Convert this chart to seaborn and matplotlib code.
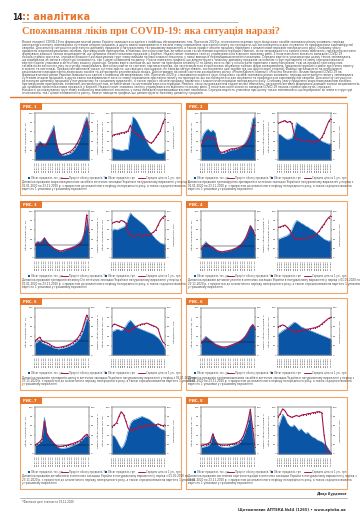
import matplotlib
matplotlib.use('Agg')
import matplotlib.pyplot as plt
import seaborn as sns
import pandas as pd
import textwrap
from matplotlib.patches import Rectangle
from matplotlib.lines import Line2D

sns.set_theme(style='white')
plt.rcParams['font.family'] = ['DejaVu Sans']

# ---------------- data ----------------
dates_left = ['06.01.20', '20.01.20', '03.02.20', '17.02.20', '02.03.20', '16.03.20',
              '30.03.20', '13.04.20', '27.04.20', '11.05.20', '25.05.20', '08.06.20',
              '22.06.20', '06.07.20', '20.07.20', '03.08.20', '17.08.20', '31.08.20',
              '14.09.20', '28.09.20', '12.10.20', '26.10.20', '09.11.20', '23.11.20']
dates_right = ['01.2019', '02.2019', '03.2019', '04.2019', '05.2019', '06.2019',
               '07.2019', '08.2019', '09.2019', '10.2019', '11.2019', '12.2019',
               '01.2020', '02.2020', '03.2020', '04.2020', '05.2020', '06.2020',
               '07.2020', '08.2020', '09.2020', '10.2020', '11.2020', '12.2020']

p1l_area = [30, 33, 40, 36, 34, 38, 50, 62, 74, 40, 20, 12, 10, 11, 12, 14, 18, 24, 32, 44, 58, 80, 92, 72]
p1l_line = [20, 25, 35, 32, 30, 34, 45, 55, 62, 35, 18, 12, 12, 14, 16, 18, 22, 28, 36, 46, 58, 72, 82, 65]
p1r_area = [25, 24, 22, 22, 20, 21, 23, 22, 60, 92, 88, 80, 70, 60, 50, 40, 30, 24, 20, 16, 14, 14, 15, 18]
p1r_line = [52, 54, 55, 56, 58, 58, 60, 62, 74, 62, 58, 54, 50, 48, 45, 42, 38, 36, 40, 48, 55, 62, 78, 88]

p2l_area = [40, 55, 62, 66, 60, 64, 58, 30, 16, 14, 15, 18, 20, 22, 22, 24, 26, 28, 32, 38, 48, 62, 88, 92]
p2l_line = [30, 40, 46, 50, 46, 48, 44, 28, 18, 16, 18, 20, 22, 24, 24, 25, 26, 28, 30, 34, 42, 52, 70, 75]
p2r_area = [56, 54, 50, 46, 44, 45, 47, 60, 80, 76, 72, 70, 66, 62, 58, 56, 52, 48, 44, 40, 38, 36, 34, 36]
p2r_line = [78, 80, 82, 84, 80, 82, 78, 55, 45, 44, 42, 40, 40, 40, 39, 39, 40, 40, 42, 48, 58, 70, 82, 88]

p3l_area = [30, 36, 34, 38, 44, 36, 30, 26, 22, 18, 16, 14, 16, 18, 20, 22, 24, 26, 30, 34, 40, 56, 78, 50]
p3l_line = [28, 32, 30, 34, 42, 34, 28, 24, 20, 18, 16, 15, 16, 18, 19, 20, 22, 24, 26, 30, 36, 50, 92, 55]
p3r_area = [58, 62, 60, 62, 64, 66, 70, 85, 96, 90, 86, 82, 78, 74, 70, 64, 58, 52, 46, 40, 36, 32, 30, 30]
p3r_line = [74, 76, 78, 76, 80, 78, 74, 55, 48, 46, 46, 48, 48, 47, 48, 50, 50, 52, 55, 60, 70, 80, 86, 90]

p4l_area = [22, 28, 35, 30, 26, 24, 20, 16, 14, 13, 14, 15, 16, 18, 20, 22, 26, 30, 36, 44, 56, 70, 62, 50]
p4l_line = [20, 24, 30, 28, 24, 22, 18, 15, 14, 13, 14, 15, 16, 17, 19, 21, 24, 28, 34, 42, 54, 68, 60, 48]
p4r_area = [40, 42, 44, 46, 48, 52, 60, 72, 80, 78, 74, 72, 68, 66, 62, 60, 56, 52, 48, 44, 40, 38, 36, 38]
p4r_line = [65, 66, 68, 70, 66, 60, 50, 42, 40, 40, 41, 42, 42, 43, 44, 46, 48, 52, 58, 66, 72, 80, 86, 90]

p5l_area = [25, 28, 32, 26, 24, 22, 20, 18, 15, 14, 13, 14, 15, 16, 18, 20, 22, 26, 30, 36, 46, 60, 78, 70]
p5l_line = [30, 34, 38, 30, 28, 26, 24, 20, 18, 16, 16, 17, 18, 19, 21, 23, 26, 30, 35, 42, 52, 68, 85, 75]
p5r_area = [50, 52, 55, 54, 52, 56, 62, 70, 74, 68, 62, 58, 56, 54, 52, 50, 48, 46, 44, 40, 36, 30, 22, 12]
p5r_line = [62, 66, 64, 62, 60, 58, 55, 50, 52, 56, 60, 62, 64, 66, 66, 68, 66, 64, 62, 60, 56, 40, 28, 24]

p6l_area = [30, 34, 40, 36, 32, 28, 24, 22, 20, 18, 17, 18, 20, 22, 24, 26, 28, 32, 36, 42, 50, 60, 66, 58]
p6l_line = [26, 30, 36, 32, 28, 26, 22, 20, 18, 17, 17, 18, 19, 21, 23, 25, 27, 30, 34, 40, 48, 58, 64, 56]
p6r_area = [45, 48, 52, 55, 58, 62, 66, 70, 68, 64, 60, 58, 56, 54, 52, 50, 48, 46, 44, 42, 40, 38, 36, 34]
p6r_line = [60, 62, 64, 62, 58, 55, 52, 50, 50, 51, 52, 53, 54, 55, 56, 57, 58, 60, 62, 66, 70, 74, 78, 80]

p7l_area = [18, 20, 24, 30, 78, 45, 36, 30, 24, 18, 14, 12, 12, 13, 14, 16, 18, 20, 22, 26, 30, 36, 40, 34]
p7l_line = [20, 22, 26, 32, 70, 42, 34, 28, 22, 18, 16, 16, 17, 18, 19, 21, 22, 24, 26, 28, 32, 38, 42, 36]
p7r_area = [40, 38, 30, 20, 12, 18, 30, 50, 65, 72, 74, 76, 78, 80, 78, 76, 74, 70, 66, 62, 58, 54, 52, 50]
p7r_line = [58, 62, 66, 80, 90, 84, 70, 55, 50, 52, 54, 56, 58, 58, 60, 60, 62, 62, 60, 62, 64, 62, 60, 62]

p8l_area = [14, 15, 16, 18, 22, 45, 30, 20, 16, 15, 14, 14, 15, 16, 18, 20, 22, 28, 36, 50, 65, 90, 40, 5]
p8l_line = [18, 19, 20, 22, 26, 42, 30, 22, 20, 19, 19, 19, 20, 21, 22, 24, 26, 30, 38, 52, 70, 95, 55, 15]
p8r_area = [55, 70, 85, 78, 66, 60, 58, 62, 56, 50, 54, 48, 44, 46, 40, 36, 34, 30, 28, 26, 22, 18, 10, 4]
p8r_line = [78, 86, 96, 92, 84, 80, 78, 80, 82, 80, 82, 84, 84, 86, 86, 88, 88, 90, 90, 88, 40, 10, 4, 2]

zero_levels = [35, 30, 28, 25, 30, 28, 20, 22]

panel_labels = ['РИС. 1', 'РИС. 2', 'РИС. 3', 'РИС. 4', 'РИС. 5', 'РИС. 6', 'РИС. 7', 'РИС. 8']
groups = ['жарознижувальних засобів', 'противірусних препаратів', 'препаратів вітаміну D',
          'антикоагулянтів', 'препаратів цинку', 'противокашльових засобів',
          'антибіотиків', 'системних кортикостероїдів']

# ---------------- layout helpers ----------------
W, H = 360, 530
fig = plt.figure(figsize=(3.6, 5.3), dpi=100)
fig.patch.set_facecolor('white')

ORANGE = '#E8772E'
ORANGE_L = '#F2A56A'
BLUE = '#0A55A5'
MAROON = '#A3194E'
GRAY = '#444444'


def box(x, y, w, h):
    return [x / W, 1 - (y + h) / H, w / W, h / H]


def fx(x):
    return x / W


def fy(y):
    return 1 - y / H


def hline(x0, x1, y, color, lw):
    fig.add_artist(Line2D([fx(x0), fx(x1)], [fy(y), fy(y)], color=color, lw=lw,
                          transform=fig.transFigure))


# ---------------- header ----------------
fig.text(fx(12), fy(17.5), '14', fontsize=5.5, weight='bold', va='center', color='#222222')
fig.text(fx(21.5), fy(17.5), ':: аналітика', fontsize=7, weight='bold', va='center', color=ORANGE)
hline(22, 238, 21.5, '#9A9A9A', 0.5)
fig.text(fx(22), fy(31.5), 'Споживання ліків при COVID-19: яка ситуація наразі?',
         fontsize=7.4, weight='bold', va='center', color=ORANGE, family='Liberation Serif')

body_a = ('Вплив пандемії COVID-19 на фармацевтичний ринок України залишається однією з найбільш '
          'обговорюваних тем. Протягом 2020 р. споживання окремих груп лікарських засобів зазнавало '
          'різких коливань: періоди ажіотажного попиту змінювалися суттєвим спадом продажів, а друга хвиля '
          'захворюваності восени знову спричинила зростання попиту на препарати, що застосовуються для '
          'лікування та профілактики коронавірусної хвороби. Для аналізу ситуації ми розглянули динаміку '
          'продажів у натуральному та грошовому вираженні, а також приріст обсягів продажу порівняно з '
          'аналогічним періодом попереднього року. Особливу увагу приділено жарознижувальним засобам, '
          'противірусним препаратам, вітамінам, антикоагулянтам, антибіотикам та системним кортикостероїдам. '
          'Навесні, після запровадження карантинних обмежень, населення активно формувало домашні запаси '
          'медикаментів, що зумовило пікові показники продажів у березні. Надалі попит знизився і влітку '
          'утримувався на відносно низькому рівні. З початком осені кількість випадків COVID-19 почала '
          'стрімко зростати, і продажі більшості досліджуваних груп знову вийшли на максимальні значення, '
          'у низці випадків перевищивши весняні показники. Середня вартість упаковки при цьому також '
          'змінювалася, що відображає як зміни в структурі споживання, так і цінові коливання на ринку. ')
body_b = ('Нижче наведено графіки, що демонструють тижневу динаміку продажів за кожною з груп препаратів '
          'та зміну середньозваженої вартості однієї упаковки в аптечному кошику українців. '
          'Окремо варто зазначити, що попит на препарати вітаміну D та цинку восени зріс у кілька разів '
          'порівняно з минулим роком, тоді як продажі противірусних засобів після весняного піку поступово '
          'знижувалися. Антикоагулянти та системні кортикостероїди, що застосовуються в протоколах лікування '
          'тяжких форм захворювання, продемонстрували стрімке зростання попиту в жовтні та листопаді. '
          'Продажі антибіотиків також суттєво зросли, що свідчить про широке, не завжди обґрунтоване, '
          'застосування цих засобів під час другої хвилі епідемії. Фахівці наголошують на необхідності '
          'раціонального використання лікарських засобів та дотримання рекомендацій лікаря. '
          'Дані отримані на основі системи дослідження ринку «PharmXplorer» компанії «Proxima Research». ')
body = body_a + body_b + body_a + body_b
lines = textwrap.wrap(body, 205)[:18]
lines[-1] = lines[-1][:110]
for i, ln in enumerate(lines):
    fig.text(fx(22), fy(42 + i * 3.0), ln, fontsize=2.05, va='center', color=GRAY)

hline(10, 346, 96.5, ORANGE, 1.0)

# ---------------- panels ----------------
lefts = [20, 186]
tops = [103, 201, 298, 397]
PW, PH = 161, 92

series = [
    (p1l_area, p1l_line, p1r_area, p1r_line),
    (p2l_area, p2l_line, p2r_area, p2r_line),
    (p3l_area, p3l_line, p3r_area, p3r_line),
    (p4l_area, p4l_line, p4r_area, p4r_line),
    (p5l_area, p5l_line, p5r_area, p5r_line),
    (p6l_area, p6l_line, p6r_area, p6r_line),
    (p7l_area, p7l_line, p7r_area, p7r_line),
    (p8l_area, p8l_line, p8r_area, p8r_line),
]

TF = 1.7


def small_chart(rect, dates, area, line, zero=None, lab_l='', lab_r=''):
    ax = fig.add_axes(rect)
    df = pd.DataFrame({'x': range(len(dates)), 'area': area, 'line': line})
    ax.fill_between(df['x'], 0, df['area'], color=BLUE, lw=0)
    sns.lineplot(data=df, x='x', y='area', ax=ax, color='#4A90D0', lw=0.4)
    ax.set_ylim(0, 100)
    ax.set_xlim(0, len(dates) - 1)
    ax.set_xticks(range(len(dates)))
    ax.set_xticklabels(dates, rotation=90, fontsize=TF)
    ax.tick_params(axis='both', labelsize=TF, length=0.8, width=0.3, pad=0.6)
    ax.set_xlabel('')
    ax.set_ylabel(lab_l, fontsize=TF, labelpad=1)
    ax2 = ax.twinx()
    sns.lineplot(data=df, x='x', y='line', ax=ax2, color=MAROON, lw=0.8,
                 marker='o', markersize=0.9, markeredgewidth=0)
    if zero is not None:
        ax2.axhline(zero, color='#111111', lw=0.35)
    ax2.set_ylim(0, 100)
    ax2.tick_params(axis='y', labelsize=TF, length=0.8, width=0.3, pad=0.6)
    ax2.set_ylabel(lab_r, fontsize=TF, labelpad=1)
    for a in (ax, ax2):
        for s in a.spines.values():
            s.set_linewidth(0.3)
            s.set_color('#777777')
    return ax


for k in range(8):
    row, col = divmod(k, 2)
    x0, y0 = lefts[col], tops[row]
    fig.add_artist(Rectangle((fx(x0), fy(y0 + PH)), PW / W, PH / H, fill=False,
                             ec=ORANGE_L, lw=0.8, transform=fig.transFigure))
    fig.add_artist(Rectangle((fx(x0), fy(y0 + 7)), 22 / W, 7 / H, fc=ORANGE,
                             ec='none', transform=fig.transFigure))
    fig.text(fx(x0 + 3), fy(y0 + 3.6), panel_labels[k], fontsize=2.6, color='white',
             weight='bold', va='center')
    la, ll, ra, rl = series[k]
    small_chart(box(x0 + 15, y0 + 10, 54, 47), dates_left, la, ll, zero=zero_levels[k],
                lab_l='Обсяг продажів, тис. уп.', lab_r='Приріст обсягу продажів, %')
    small_chart(box(x0 + 92, y0 + 10, 53, 47), dates_right, ra, rl,
                lab_l='Обсяг продажів, млн грн', lab_r='Середня ціна, грн')
    # legends
    for lx, t1, t2 in [(x0 + 8, 'Обсяг продажів, тис. уп.', 'Приріст обсягу продажів, %'),
                       (x0 + 85, 'Обсяг продажів, грн', 'Середня ціна за 1 уп., грн')]:
        fig.add_artist(Rectangle((fx(lx), fy(y0 + 75.8)), 2 / W, 2 / H, fc=BLUE, ec='none',
                                 transform=fig.transFigure))
        fig.text(fx(lx + 3), fy(y0 + 74.8), t1, fontsize=1.8, va='center', color=GRAY)
        fig.add_artist(Line2D([fx(lx + 33), fx(lx + 40)], [fy(y0 + 74.8)] * 2, color=MAROON,
                              lw=0.7, transform=fig.transFigure))
        fig.text(fx(lx + 41), fy(y0 + 74.8), t2, fontsize=1.8, va='center', color=GRAY)
    cap = ('Динаміка продажів ' + groups[k] + ' в аптечних закладах України в натуральному '
           'вираженні у період з 01.01.2020 по 23.11.2020 р. з приростом до аналогічного періоду '
           'попереднього року, а також середньозважена вартість 1 упаковки у грошовому вираженні')
    for j, ln in enumerate(textwrap.wrap(cap, 112)[:3]):
        fig.text(fx(x0 + 2), fy(y0 + 79.5 + j * 3.1), ln, fontsize=1.95, va='center', color=GRAY)

# ---------------- footer ----------------
hline(20, 347, 497.5, '#9A9A9A', 0.5)
fig.text(fx(22), fy(501.5), '*Фактичні дані станом на 23.11.2020', fontsize=1.9, va='center', color=GRAY)
fig.text(fx(346), fy(493.5), 'Дінар Бурдинов', fontsize=2.3, va='center', ha='right',
         style='italic', weight='bold', color='#333333')
fig.text(fx(346), fy(510), 'Щотижневик АПТЕКА №44 (1265) • www.apteka.ua', fontsize=2.6,
         va='center', ha='right', weight='bold', color='#333333')

fig.savefig('out.png', dpi=100, facecolor='white')
